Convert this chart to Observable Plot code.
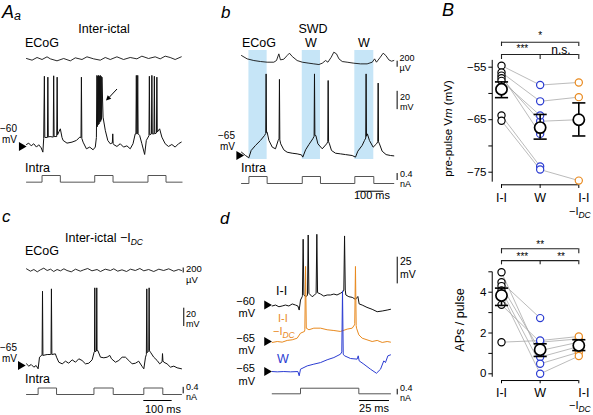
<!DOCTYPE html>
<html><head><meta charset="utf-8">
<script src="https://cdn.jsdelivr.net/npm/d3@7"></script>
<script src="https://cdn.jsdelivr.net/npm/@observablehq/plot@0.6"></script>
<style>
body{margin:0;background:#fff;}
#fig{position:relative;width:593px;height:415px;overflow:hidden;background:#fff;font-family:"Liberation Sans",Arial,Helvetica,sans-serif;}
#fig svg{position:absolute;}
</style></head><body><div id="fig"></div>
<script>
// ---------------- DATA ----------------
// Panel Aa (inter-ictal): [time ms, Vm mV]
const aaIntra = [[0,-57.8],[8,-56.3],[17,-59.3],[26,-57],[36,-60.7],[44,-58.1],[53,-61.5],[59,-66.3],[62,-51.5],[64.5,18],[66,-50],[75.5,-50],[77,17],[78.5,-49.5],[85,-49],[96.5,-49.6],[98,18.5],[99.5,-49],[109,-49],[110.5,17],[112,-47],[118,-43],[122,-40.4],[128,-50],[132,-53.3],[146,-56.3],[164,-55.2],[180,-53.3],[192,-49.6],[196.5,-50],[198,17],[199.5,-51],[204,-55.2],[216,-62.6],[228,-60.7],[240,-63.7],[248,-60.7],[252,-50],[254,19],[255.5,-38],[257,18],[258.5,-36],[260,19],[261.5,-35],[263,18],[264.5,-33],[266,19],[267.5,-32],[269,18],[270.5,-30],[272,17],[276,-27.4],[284,-42],[293,-53.3],[302,-57],[309.5,-56],[311,-46],[312.5,-57],[314,-57.8],[326,-60],[338,-57],[350,-60.7],[362,-59.3],[374,-62.6],[384,-57],[392,-46],[394.5,-46],[396,19],[397.5,-46],[399.5,-46],[401,19],[402.5,-46],[408,-47.8],[416,-57],[426,-68.9],[432,-53.3],[441.5,-48],[443,18],[444.5,-47],[450.5,-46],[452,19],[453.5,-46],[459.5,-46],[461,18],[462.5,-46],[468.5,-45],[470,17],[471.5,-44],[480,-40.4],[488,-49.6],[500,-57],[512,-60],[524,-57.8],[536,-60.7],[548,-57],[558,-55.2]];
// ECoG: [time ms, µV]
const aaEcog = [[0,0],[20,-48],[38,29],[56,-29],[74,48],[86,-10],[110,-67],[134,0],[158,-67],[176,19],[200,-29],[218,48],[242,-10],[266,-48],[284,29],[302,-29],[326,48],[350,-29],[374,29],[398,-10],[416,67],[440,0],[464,48],[482,-10],[500,67],[518,29],[536,-29],[558,48]];
const aaPulseOn = [56, 246, 438];
const aaPulseOff = [122, 312, 503];

// Panel b (SWD)
const bIntra = [[0,-61.4],[15.6,-65],[28.6,-67.5],[37.7,-59.5],[54.6,-54],[74,-48.6],[89.7,-43.2],[94.5,-41],[96,24],[97.5,-40],[100,-39.5],[107,-48.6],[120,-55.9],[132.6,-57.7],[143,-48.6],[146.5,-47],[148,18],[149.5,-48],[153,-52.3],[165,-58.8],[178,-61.4],[197.6,-62.5],[217,-63.2],[234,-64.3],[239,-66.8],[250,-58.8],[263,-53],[278,-46.8],[283.2,-44],[284.7,24],[286.2,-43],[290,-43.2],[298,-52.3],[315,-57.7],[332,-52.3],[336.5,-50],[338,16.8],[339.5,-50],[343,-52.3],[351,-59.5],[366.6,-62.5],[386,-63.2],[405.6,-64],[431.6,-65],[444.6,-66.8],[453.7,-60.3],[470.6,-54],[479.7,-48.6],[484.5,-46],[486,24],[487.5,-44],[491,-41.4],[499,-48.6],[513.5,-55.9],[526.5,-52.3],[531.5,-50],[533,14],[534.5,-50],[538,-52.3],[548.6,-60.3],[564,-64],[581,-65],[594,-65.4]];
const bEcog = [[0,220],[22,110],[48,55],[74,22],[100,0],[126,0],[136.5,55],[145.6,275],[152,77],[165,99],[178,220],[187,297],[198,187],[217,55],[237,0],[263,-33],[282,-55],[302,-77],[315,-33],[328,55],[337,0],[350,165],[360,330],[370.5,275],[380,110],[393,22],[412,0],[438,-33],[464,-55],[490,-55],[510,0],[519,110],[526.5,0],[539.5,143],[552.5,297],[563,220],[574.6,77],[585,33],[594,55]];
const bPulseOn = [29, 237, 442];
const bPulseOff = [100, 308, 516];

// Panel c (inter-ictal -IDC)
const cIntra = [[0,-63.2],[8.2,-65.7],[16.5,-63.9],[25.9,-66.8],[34,-65],[41,-68.6],[45.9,-55.9],[53,-54],[55,-54],[56.5,16],[58,-54],[73,-53],[84.7,-53],[86.5,-53],[88,18.6],[89.5,-53],[102,-52.3],[106,-55.9],[114,-61.4],[126,-63.2],[137.6,-60.3],[149,-62.5],[161,-58.8],[173,-61.4],[184.6,-57.7],[196,-59.5],[208,-63.2],[220,-62.5],[231.7,-58.8],[238.7,-50.5],[240,-50],[241,19.7],[242,-50],[247,-49],[248,19.7],[249,-49],[251.7,-48.6],[261,-55.9],[273,-56.6],[284.6,-55.9],[294,-54],[300,-57.7],[314,-61.4],[325.8,-59.5],[337.5,-55.9],[349,-55.9],[361,-59.5],[372.8,-63.2],[384.6,-62.5],[396,-60.3],[408,-66],[414,-68.6],[420,-55.9],[423,-53],[424.5,18.6],[426,-51],[429,-50],[431.5,-49],[432.8,19.7],[434,-49],[437.5,-50.5],[449,-55.9],[461,-59.5],[470,-63.2],[478.5,-61],[480,-52],[481.5,-60],[484.5,-61.4],[496,-63.2],[508,-66.8],[520,-65.7],[531.6,-67.5],[547,-68.6]];
const cEcog = [[0,67],[14,-27],[26,40],[38,-53],[49,27],[61,93],[73,0],[85,53],[96,-40],[108,40],[120,-13],[132,67],[143,0],[158,-53],[173,53],[190,-27],[202,27],[216,80],[231,-13],[249,40],[261,-40],[278,53],[296,0],[308,67],[322,-27],[337,27],[353,-40],[367,53],[384,0],[400,80],[414,-13],[431,40],[449,-40],[467,53],[484,0],[502,67],[520,-27],[537,40],[547,0]];
const cPulseOn = [41, 238, 414];
const cPulseOff = [106, 306, 481];

// Panel d (single pulses)
const dII = [[0,-60.9],[2.8,-60],[5.6,-61.6],[8.3,-60.9],[11,-60],[13.9,-60.9],[16.7,-59],[19.4,-60],[21.4,-60.9],[22.5,-64.7],[23.6,-55.3],[25,-52.2],[25.2,-51],[25.8,1.6],[26.4,-50.6],[27.8,-52.2],[29.4,-51],[30,5.6],[30.6,-49],[33.3,-52.2],[35.3,-50.6],[36.6,-49],[37.2,6.25],[37.8,-48.4],[40.3,-49.7],[43,-51.6],[45.8,-50.6],[48.6,-50.6],[51.4,-49.7],[54,-50.6],[56.9,-49],[59,-47.5],[59.7,-46],[60.3,4.7],[60.9,-46],[61.4,-50.6],[63.9,-52.2],[66.7,-52.8],[69.4,-54.7],[71.4,-52],[72.5,-59],[75,-60],[79,-62.2],[83.3,-64],[87.5,-66.25],[91.7,-65.6],[95.8,-64.7],[98.6,-64]];
const dIDC = [[0,-65.9],[4.2,-65],[8.3,-65.6],[12.5,-64],[16.7,-63.4],[20.8,-61.9],[23.6,-57.2],[26.9,-55.6],[27.2,-54],[27.8,5.3],[28.4,-52.5],[30.6,-54],[34.7,-52.5],[40.3,-52.5],[45.8,-54],[51.4,-54.7],[56.9,-55.6],[62.5,-53.4],[66.7,-52.5],[68.6,-49.4],[68.8,-48],[69.4,5.3],[70,-50],[70.3,-52.5],[72.2,-58.75],[75,-61.9],[79,-63.4],[83.3,-65],[87.5,-64],[91.7,-65.9],[95.8,-65],[98.6,-65.6]];
const dW = [[0,-65],[4.2,-65.3],[9.7,-65],[15.3,-65.3],[21.4,-65],[22.5,-69],[23.6,-62.8],[29.2,-59.7],[34.7,-58.1],[40.3,-56.6],[45.8,-54],[51.4,-51.9],[56.9,-48.75],[58,-46.6],[58.6,10.6],[59.2,-48.75],[60.3,-50.3],[65.3,-52.8],[70.8,-53.4],[71.7,-50.3],[72.5,-55],[76.4,-58.1],[81.9,-62.8],[86.9,-66.6],[90.3,-62.8],[93,-55],[94.4,-56.6],[96.4,-50.3],[98.6,-49.4]];
const dPulseOn = [23.6];
const dPulseOff = [72.2];
const pulseAmp = 0.4; // nA

// Scale bars
const ecogBar = 200, vBar = 20, vBarD = 25, iBar = 0.4, tBar = 100, tBarD = 25;

// Panel B: per cell, groups I-I, W, I-I -IDC
const groups = ["I-I", "W", "I-I"];
const prepII  = [-54.7, -56.0, -56.6, -57.1, -57.6, -64.2, -65.2];
const prepW   = [-58.4, -61.5, -67.7, -65.3, -64.2, -73.9, -74.5];
const prepIDC = [-57.9, -60.7, null, -65.0, null, null, -76.6];
const prepMean = [-59.2, -66.5, -65.0];
const prepLo   = [-60.8, -68.7, -68.1];
const prepHi   = [-57.8, -64.0, -61.8];
const prepTicks = [-55, -60, -65, -70, -75];
const prepLabels = [-55, -65, -75];

const apsII  = [4.98, 4.49, 4.30, 4.08, 3.90, 3.38, 1.55];
const apsW   = [0.82, 2.73, 1.14, 0.49, 0.00, 1.55, 1.63];
const apsIDC = [1.34, null, 1.55, 1.06, 0.87, 1.71, 1.83];
const apsMean = [3.84, 1.18, 1.39];
const apsLo   = [3.35, 0.85, 1.14];
const apsHi   = [4.20, 1.47, 1.67];
const apsTicks = [0, 1, 2, 3, 4, 5];
const apsLabels = [0, 2, 4];

const sigPrep = ["*", "***", "n.s."];
const sigAps = ["**", "***", "**"];

// ---------------- STYLE ----------------
const BLUE = "#2b3cd2", ORANGE = "#e98a1f", GREY = "#a9a9a9", SHADE = "#c6e5f7", CUR = "#555";
const FONT = '"Liberation Sans", Arial, Helvetica, sans-serif';
const fig = document.getElementById("fig");
const pts = arr => arr.map(([t, v]) => ({t, v}));
function steps(on, off, amp, t0, t1) {
  const out = [{t: t0, v: 0}];
  on.forEach((s, k) => { out.push({t: s, v: 0}, {t: s, v: amp}, {t: off[k], v: amp}, {t: off[k], v: 0}); });
  out.push({t: t1, v: 0});
  return out;
}
function place(svg, left, top) { svg.style.left = left + "px"; svg.style.top = top + "px"; fig.appendChild(svg); }
function trace(p, top, height, yDomain, marks) {
  const svg = Plot.plot({
    width: p.w, height, marginLeft: p.ts - p.left, marginRight: p.left + p.w - p.te, marginTop: 0, marginBottom: 0,
    x: {domain: p.xd, axis: null}, y: {domain: yDomain, axis: null},
    style: {background: "transparent", overflow: "visible"},
    marks
  });
  place(svg, p.left, top);
}
const line = (d, o = {}) => Plot.line(pts(d), {x: "t", y: "v", stroke: o.stroke || "#111", strokeWidth: o.w || 1, curve: "linear"});
const head = (t, v) => Plot.dot([{t, v}], {x: "t", y: "v", symbol: "triangle", rotate: 90, r: 3.3, fill: "#000", stroke: "none"});
const vbar = (t, a, b) => Plot.ruleX([t], {y1: a, y2: b, stroke: "#000", strokeWidth: 1});
const hbar = (v, a, b) => Plot.ruleY([v], {x1: a, x2: b, stroke: "#000", strokeWidth: 1});

// ---------------- PANEL Aa ----------------
const pA = {left: 0, w: 220, ts: 26, te: 181.6, xd: [0, 561]};
trace(pA, 48, 20, [-286, 286], [line(aaEcog, {w: 0.9})]);
trace(pA, 70, 90, [-75.6, 24.4], [line(aaIntra), head(-18, -60)]);
trace(pA, 170, 15, [-0.20, 0.70], [Plot.line(steps(aaPulseOn, aaPulseOff, pulseAmp, 0, 561), {x: "t", y: "v", stroke: CUR, strokeWidth: 1})]);

// ---------------- PANEL b ----------------
const pB = {left: 220, w: 220, ts: 241, te: 393.3, xd: [0, 594]};
trace(pB, 50, 109, [0, 1], [Plot.rect(bPulseOn.map((s, k) => ({s, e: bPulseOff[k]})), {x1: "s", x2: "e", y1: 0, y2: 1, fill: SHADE})]);
trace(pB, 45, 30, [-439, 551], [line(bEcog, {w: 0.9}), vbar(607, -167, -167 + ecogBar)]);
trace(pB, 70, 95, [-75.9, 27.7], [line(bIntra), head(-10, -65), vbar(607, -15, -15 + vBar)]);
trace(pB, 170, 16, [-0.171, 0.743], [Plot.line(steps(bPulseOn, bPulseOff, pulseAmp, 0, 594), {x: "t", y: "v", stroke: CUR, strokeWidth: 1}), vbar(607, 0.17, 0.17 + iBar), hbar(-0.44, 455, 455 + tBar)]);

// ---------------- PANEL c ----------------
const pC = {left: 0, w: 220, ts: 26, te: 181, xd: [0, 547]};
trace(pC, 255, 30, [-600, 600], [line(cEcog, {w: 0.9}), vbar(553, -100, -100 + ecogBar)]);
trace(pC, 280, 95, [-75.9, 27.7], [line(cIntra), head(-21, -65), vbar(555, -22.5, -22.5 + vBar)]);
trace(pC, 380, 18, [-0.246, 0.862], [Plot.line(steps(cPulseOn, cPulseOff, pulseAmp, 0, 547), {x: "t", y: "v", stroke: CUR, strokeWidth: 1}), vbar(553, 0.04, 0.04 + iBar), hbar(-0.37, 414, 414 + tBar)]);

// ---------------- PANEL d ----------------
const pD = {left: 220, w: 220, ts: 271.7, te: 390, xd: [0, 98.6]};
trace(pD, 230, 85, [-69.8, 9.8], [line(dII), head(-4.5, -60), vbar(104.2, -40.2, -40.2 + vBarD)]);
trace(pD, 262, 90, [-75.3, 9.0], [line(dIDC, {stroke: ORANGE}), head(-4.5, -65)]);
trace(pD, 285, 95, [-73.4, 15.6], [line(dW, {stroke: BLUE}), head(-4.5, -65)]);
trace(pD, 383, 14, [-0.264, 0.736], [Plot.line(steps(dPulseOn, dPulseOff, pulseAmp, 0, 98.6), {x: "t", y: "v", stroke: CUR, strokeWidth: 1}), vbar(104.2, -0.08, -0.08 + iBar), hbar(-0.48, 72.75, 72.75 + tBarD)]);

// ---------------- PANEL B ----------------
function groupPlot(cfg) {
  const {top, height, mt, mb, yd, II, W, IDC, mean, lo, hi, ticks, labels, axisTop, axisBot, xAxisY, tickLen, labelY, brk, sig, fmt} = cfg;
  const xs = [1, 2, 3];
  const links = [];
  II.forEach((v, i) => {
    if (v != null && W[i] != null) links.push({x1: 1, y1: v, x2: 2, y2: W[i]});
    if (W[i] != null && IDC[i] != null) links.push({x1: 2, y1: W[i], x2: 3, y2: IDC[i]});
  });
  const dots = (arr, x) => arr.filter(v => v != null).map(v => ({x, y: v}));
  const means = xs.map((x, k) => ({x, m: mean[k], lo: lo[k], hi: hi[k]}));
  const axX = 0.76, tk = 0.1;
  const svg = Plot.plot({
    width: 153, height, marginLeft: 61, marginRight: 14.7, marginTop: mt, marginBottom: mb,
    x: {domain: [1, 3], axis: null}, y: {domain: yd, axis: null},
    style: {background: "transparent", overflow: "visible", fontFamily: FONT},
    marks: [
      // axes
      Plot.ruleX([axX], {y1: axisBot, y2: axisTop, stroke: "#000", strokeWidth: 1}),
      Plot.link(ticks, {x1: axX - tk, x2: axX, y1: d => d, y2: d => d, stroke: "#000", strokeWidth: 1}),
      Plot.text(labels, {x: axX - 0.15, y: d => d, text: fmt, textAnchor: "end", lineAnchor: "middle", fontSize: 11.5, fill: "#000"}),
      Plot.ruleY([xAxisY], {x1: 1, x2: 3, stroke: "#000", strokeWidth: 1}),
      Plot.ruleX(xs, {y1: xAxisY, y2: xAxisY - tickLen, stroke: "#000", strokeWidth: 1}),
      Plot.text(xs.slice(0, 2), {x: d => d, y: labelY, text: (d, i) => groups[i], lineAnchor: "middle", fontSize: 12.5, fill: "#000"}),
      // significance brackets
      Plot.ruleY([brk[0]], {x1: 1, x2: 3, stroke: "#222", strokeWidth: 1.1}),
      Plot.ruleX([1, 3], {y1: brk[0], y2: brk[1], stroke: "#222", strokeWidth: 1.1}),
      Plot.ruleY([brk[2]], {x1: 1, x2: 3, stroke: "#222", strokeWidth: 1.1}),
      Plot.ruleX([1, 2, 3], {y1: brk[2], y2: brk[3], stroke: "#222", strokeWidth: 1.1}),
      Plot.text([sig[0]], {x: 2, y: brk[4], text: d => d, lineAnchor: "middle", fontSize: 10, fill: "#000"}),
      Plot.text([sig[1]], {x: 1.54, y: brk[5], text: d => d, lineAnchor: "middle", fontSize: 10, fill: "#000"}),
      Plot.text([sig[2]], {x: 2.54, y: brk[6], text: d => d, lineAnchor: "middle", fontSize: sig[2] === "n.s." ? 12 : 10, fill: "#000"}),
      // data
      Plot.link(links, {x1: "x1", y1: "y1", x2: "x2", y2: "y2", stroke: GREY, strokeWidth: 0.8}),
      Plot.dot(dots(II, 1), {x: "x", y: "y", r: 3.6, stroke: "#000", fill: "white", strokeWidth: 1.2}),
      Plot.dot(dots(W, 2), {x: "x", y: "y", r: 3.6, stroke: BLUE, fill: "white", strokeWidth: 1.2}),
      Plot.dot(dots(IDC, 3), {x: "x", y: "y", r: 3.6, stroke: ORANGE, fill: "white", strokeWidth: 1.2}),
      Plot.ruleX(means, {x: "x", y1: "lo", y2: "hi", stroke: "#000", strokeWidth: 1.6}),
      Plot.link(means, {x1: d => d.x - 0.17, x2: d => d.x + 0.17, y1: "hi", y2: "hi", stroke: "#000", strokeWidth: 1.6}),
      Plot.link(means, {x1: d => d.x - 0.17, x2: d => d.x + 0.17, y1: "lo", y2: "lo", stroke: "#000", strokeWidth: 1.6}),
      Plot.dot(means, {x: "x", y: "m", r: 5.6, stroke: "#000", fill: "white", strokeWidth: 1.7})
    ]
  });
  place(svg, 440, top);
}
const minus = d => (d < 0 ? "\u2212" + Math.abs(d) : String(d));
groupPlot({top: 0, height: 210, mt: 50.95, mb: 27.8, yd: [-77, -52], II: prepII, W: prepW, IDC: prepIDC,
  mean: prepMean, lo: prepLo, hi: prepHi, ticks: prepTicks, labels: prepLabels, axisTop: -53.7, axisBot: -76.9,
  xAxisY: -77.4, tickLen: 0.7, labelY: -79.95, brk: [-50.24, -51.06, -52.58, -53.53, -49.0, -51.5, -51.75], sig: sigPrep, fmt: minus});
groupPlot({top: 210, height: 205, mt: 51.1, mb: 31.5, yd: [-0.5, 5.5], II: apsII, W: apsW, IDC: apsIDC,
  mean: apsMean, lo: apsLo, hi: apsHi, ticks: apsTicks, labels: apsLabels, axisTop: 4.98, axisBot: -0.17,
  xAxisY: -0.33, tickLen: 0.16, labelY: -0.95, brk: [6.13, 5.88, 5.55, 5.34, 6.33, 5.72, 5.72], sig: sigAps, fmt: minus});

// ---------------- TEXT OVERLAY ----------------
const ov = d3.select(fig).append("svg").attr("width", 593).attr("height", 415)
  .style("left", "0px").style("top", "0px").style("pointer-events", "none")
  .attr("font-family", FONT);
// each text element may hold several lines: [{x, y, parts:[{t, sub, it}], size}]
function TL(lines, o = {}) {
  const t = ov.append("text").attr("font-size", o.size || 12.5)
    .attr("text-anchor", o.anchor || "start").attr("fill", o.color || "#000");
  if (o.italic) t.attr("font-style", "italic");
  lines.forEach(L => {
    const parts = typeof L.parts === "string" ? [{t: L.parts}] : L.parts;
    parts.forEach((p, k) => {
      const s = t.append("tspan").text(p.t);
      if (k === 0) s.attr("x", L.x).attr("y", L.y);
      if (L.size && !p.sub) s.attr("font-size", L.size);
      if (p.sub) s.attr("font-size", p.size || 8.5).attr("dy", 3).attr("font-style", "italic");
      if (p.it) s.attr("font-style", "italic");
    });
  });
  if (o.rotate) t.attr("transform", `rotate(${o.rotate},${lines[0].x},${lines[0].y})`);
}
const T = (x, y, parts, o) => TL([{x, y, parts}], o);
const T2 = (x, y1, a, y2, b, o) => TL([{x, y: y1, parts: a}, {x, y: y2, parts: b}], o);
// panel letters
T(2, 18, "A", {size: 18, italic: true}); T(14, 20, "a", {size: 12.5, italic: true});
T(221, 18, "b", {size: 17, italic: true});
T(442, 16, "B", {size: 18, italic: true});
T(2, 222, "c", {size: 17, italic: true});
T(220, 224, "d", {size: 17, italic: true});
// Aa
T(104, 33.3, "Inter-ictal", {anchor: "middle"});
T(25, 46.7, "ECoG");
T2(17, 132, "\u221260", 143.3, "mV", {size: 10, anchor: "end"});
T(25, 171.7, "Intra");
ov.append("line").attr("x1", 117).attr("y1", 89).attr("x2", 109.5).attr("y2", 97).attr("stroke", "#000").attr("stroke-width", 1);
ov.append("polygon").attr("points", "106,100.5 111.25,98.63 107.65,95.17").attr("fill", "#000");
// b
T(313, 33.3, "SWD", {anchor: "middle"});
T(242, 46.7, "ECoG");
T(311, 46.7, "W", {anchor: "middle"}); T(364, 46.7, "W", {anchor: "middle"});
T2(399.5, 61.2, "200", 71.4, "\u00b5V", {size: 9});
T2(400, 99.5, "20", 109.7, "mV", {size: 9});
T2(235, 139, "\u221265", 150.3, "mV", {size: 10, anchor: "end"});
T(241, 171.7, "Intra");
T2(400, 176.5, "0.4", 186.7, "nA", {size: 9});
T(372, 199.3, "100 ms", {size: 11, anchor: "middle"});
// c
T(65, 241.7, [{t: "Inter-ictal \u2212I"}, {t: "DC", sub: true}]);
T(25, 255, "ECoG");
T2(186, 272, "200", 283, "\u00b5V", {size: 9.5});
T2(186, 316.8, "20", 327, "mV", {size: 9});
T2(17, 350.5, "\u221265", 361.8, "mV", {size: 10, anchor: "end"});
T(25, 383.3, "Intra");
T2(186, 390, "0.4", 400.2, "nA", {size: 9});
T(163, 413.3, "100 ms", {size: 11, anchor: "middle"});
// d
T(276, 295, "I-I");
T2(255, 304.5, "\u221260", 317, "mV", {size: 11, anchor: "end"});
TL([{x: 278, y: 322, parts: "I-I"}, {x: 273, y: 334.5, parts: [{t: "\u2212I"}, {t: "DC", sub: true}]}], {color: ORANGE, size: 11});
T2(255, 341.5, "\u221265", 354, "mV", {size: 11, anchor: "end"});
T(277, 363.3, "W", {color: BLUE});
T2(255, 372, "\u221265", 384.5, "mV", {size: 11, anchor: "end"});
T2(400, 265, "25", 278.3, "mV", {size: 10.5});
T2(400, 391, "0.4", 401.2, "nA", {size: 9});
T(374, 411.7, "25 ms", {size: 11, anchor: "middle"});
// B
T(451.5, 128.5, [{t: "pre-pulse V"}, {t: "m", it: true}, {t: " (mV)"}], {size: 11.5, anchor: "middle", rotate: -90});
T(464, 320, "APs / pulse", {size: 12.5, anchor: "middle", rotate: -90});
TL([{x: 578.3, y: 201.7, parts: "I-I"}, {x: 569, y: 214.5, size: 11, parts: [{t: "\u2212I"}, {t: "DC", sub: true}]}], {size: 12.5});
TL([{x: 578.3, y: 396.7, parts: "I-I"}, {x: 569, y: 409.3, size: 11, parts: [{t: "\u2212I"}, {t: "DC", sub: true}]}], {size: 12.5});
</script></body></html>
